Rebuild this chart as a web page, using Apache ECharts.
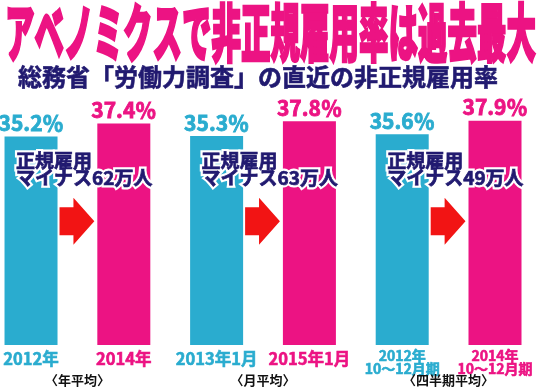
<!DOCTYPE html>
<html>
<head>
<meta charset="utf-8">
<script src="https://cdn.jsdelivr.net/npm/echarts@6/dist/echarts.min.js"></script>
<style>
html,body{margin:0;padding:0;background:#fff;}
#chart{width:540px;height:391px;}
</style>
</head>
<body>
<div id="chart"></div>
<script>
// ---- data ----
const titleText = 'アベノミクスで非正規雇用率は過去最大';
const subtitleText = '総務省「労働力調査」の直近の非正規雇用率';
const categories = ['2012年', '2014年', '2013年1月', '2015年1月', '2012年\n10〜12月期', '2014年\n10〜12月期'];
const rates = [35.2, 37.4, 35.3, 37.8, 35.6, 37.9];
const groupLabels = ['〈年平均〉', '〈月平均〉', '〈四半期平均〉'];
const regularDecrease = [62, 63, 49]; // 万人

// ---- styles ----
const CYAN = '#2aaccf';
const PINK = '#ec1383';
const NAVY = '#211a70';
const RED = '#f21414';
const CJK = '"Noto Sans CJK JP", sans-serif';

const chart = echarts.init(document.getElementById('chart'), null, {renderer: 'canvas'});

const barData = rates.map((v, i) => {
  const col = i % 2 === 0 ? CYAN : PINK;
  return {
    value: v,
    itemStyle: {color: col},
    label: {color: col, textBorderColor: col}
  };
});

function richStyle(col, size, lh) {
  return {color: col, fontSize: size, fontWeight: 'bold', fontFamily: CJK, lineHeight: lh,
          textBorderColor: col, textBorderWidth: 0.6};
}

chart.setOption({
  backgroundColor: '#ffffff',
  animation: false,
  grid: {left: 30, right: 45, top: 49, bottom: 46},
  xAxis: {
    type: 'category',
    data: categories,
    boundaryGap: false,
    axisLine: {show: false},
    axisTick: {show: false},
    splitLine: {show: false},
    axisLabel: {
      interval: 0,
      showMinLabel: true,
      showMaxLabel: true,
      margin: 4,
      formatter: function (value, index) {
        const lines = value.split('\n');
        const base = index % 2 === 0 ? 'c' : 'p';
        const key = lines.length > 1 ? base + 'q' : base;
        return lines.map(l => '{' + key + '|' + l + '}').join('\n');
      },
      rich: {
        c: richStyle(CYAN, 16.5, 20),
        p: richStyle(PINK, 16.5, 20),
        cq: richStyle(CYAN, 14, 13),
        pq: richStyle(PINK, 14, 13)
      }
    }
  },
  yAxis: {
    type: 'value',
    min: 0,
    max: 50,
    show: false,
    splitLine: {show: false}
  },
  series: [{
    type: 'bar',
    data: barData,
    barWidth: 53,
    clip: false,
    label: {
      show: true,
      position: 'top',
      distance: 3,
      formatter: '{c}％',
      fontSize: 21,
      fontWeight: 'bold',
      fontFamily: CJK,
      textBorderWidth: 0.8
    }
  }]
});

// ---- decorations positioned through the chart's own scales ----
function px(idx, val) {
  return chart.convertToPixel({gridIndex: 0}, [idx, val]);
}
const half = 26.5;
const graphics = [];

graphics.push({
  type: 'text', z: 100,
  x: 5, y: 1, scaleX: 1, scaleY: 2.12,
  style: {
    text: titleText, fill: PINK, stroke: PINK, lineWidth: 1.2,
    font: '900 29.5px ' + CJK,
    textAlign: 'left', textVerticalAlign: 'top'
  }
});
graphics.push({
  type: 'text', z: 100,
  x: 18, y: 65,
  style: {
    text: subtitleText, fill: NAVY, stroke: NAVY, lineWidth: 0.6,
    font: 'bold 24px ' + CJK,
    textAlign: 'left', textVerticalAlign: 'top'
  }
});

for (let g = 0; g < 3; g++) {
  const ci = g * 2, pi = g * 2 + 1;
  const cyanPt = px(ci, 0);
  const pinkPt = px(pi, 0);
  const yMid = px(ci, 20.9)[1];
  const s = cyanPt[0] + half + 2;
  const t = pinkPt[0] - half - 3;
  const L = t - s;
  const sx = s + L * 0.4;
  graphics.push({
    type: 'polygon', z: 90,
    shape: {points: [
      [s, yMid - 14], [sx, yMid - 14], [sx, yMid - 23.5], [t, yMid],
      [sx, yMid + 23.5], [sx, yMid + 14], [s, yMid + 14]
    ]},
    style: {fill: RED}
  });
  const noteTop = px(ci, 32.5)[1];
  const note = '正規雇用\nマイナス' + regularDecrease[g] + '万人';
  const noteFont = 'bold 19px ' + CJK;
  // white halo
  graphics.push({
    type: 'text', z: 100,
    x: cyanPt[0] - 15, y: noteTop,
    style: {
      text: note, fill: '#ffffff', stroke: '#ffffff', lineWidth: 5,
      font: noteFont, lineHeight: 17,
      textAlign: 'left', textVerticalAlign: 'top'
    }
  });
  // navy text
  graphics.push({
    type: 'text', z: 101,
    x: cyanPt[0] - 15, y: noteTop,
    style: {
      text: note, fill: NAVY, stroke: NAVY, lineWidth: 0.7,
      font: noteFont, lineHeight: 17,
      textAlign: 'left', textVerticalAlign: 'top'
    }
  });
  graphics.push({
    type: 'text', z: 100,
    x: (cyanPt[0] + pinkPt[0]) / 2, y: cyanPt[1] + 35,
    style: {
      text: groupLabels[g], fill: '#111111',
      font: 'bold 13px ' + CJK,
      textAlign: 'center', textVerticalAlign: 'middle'
    }
  });
}

chart.setOption({graphic: {elements: graphics}});
</script>
</body>
</html>
